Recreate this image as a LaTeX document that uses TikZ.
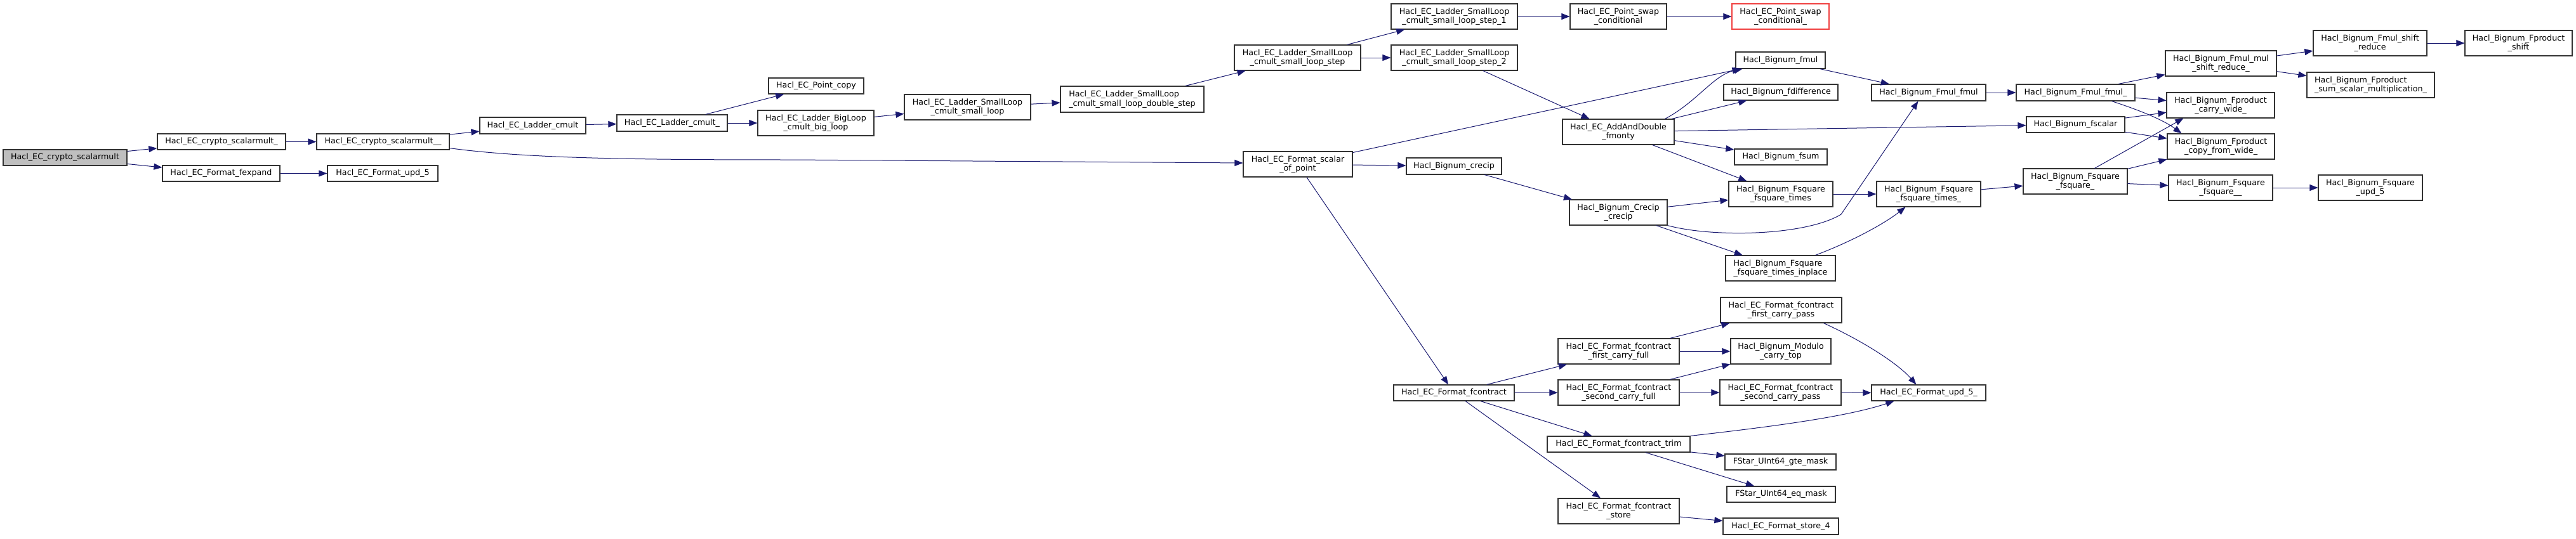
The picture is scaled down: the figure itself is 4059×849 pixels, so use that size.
\documentclass[tikz,border=0pt]{standalone}
\usepackage{fontspec}
\setmainfont{DejaVu Sans}
\usetikzlibrary{arrows.meta}
\definecolor{edgecol}{HTML}{191970}
\definecolor{redb}{HTML}{F04040}
\definecolor{rootfill}{HTML}{BFBFBF}
\newcommand{\fnt}{\fontsize{12.7}{14.4}\selectfont}
\tikzset{
  nd/.style={draw=black!80, line width=1.2pt, fill=white, inner sep=0pt, align=center, font=\fnt},
  conn/.style={draw=edgecol, line width=1pt, -{Triangle[length=13pt,width=10pt]}}
}
\newcommand{\mkbox}[7][]{\node[nd,#1,minimum width={(#5-#3)*1pt},minimum height={(#6-#4)*1pt}] (#2) at ({(#3+#5)/2},{(#4+#6)/2}) {#7};}
\begin{document}
\begin{tikzpicture}[x=1pt,y=-1pt]
\fill[white] (0,0) rectangle (4059,849);
\useasboundingbox (0,0) rectangle (4059,849);
% nodes
\mkbox[fill=rootfill]{root}{5}{236}{200}{261}{Hacl\_EC\_crypto\_scalarmult}
\mkbox{cs1}{248}{211}{450}{236}{Hacl\_EC\_crypto\_scalarmult\_}
\mkbox{fexp}{256}{261}{441}{286}{Hacl\_EC\_Format\_fexpand}
\mkbox{cs2}{499}{211}{708}{236}{Hacl\_EC\_crypto\_scalarmult\_\_}
\mkbox{upd5}{516}{261}{690}{286}{Hacl\_EC\_Format\_upd\_5}
\mkbox{lc}{756}{185}{923}{211}{Hacl\_EC\_Ladder\_cmult}
\mkbox{lcu}{972}{181}{1146}{207}{Hacl\_EC\_Ladder\_cmult\_}
\mkbox{pcopy}{1211}{123}{1361}{148}{Hacl\_EC\_Point\_copy}
\mkbox{big}{1194}{174}{1377}{214}{Hacl\_EC\_Ladder\_BigLoop\\\_cmult\_big\_loop}
\mkbox{sl}{1425}{149}{1624}{189}{Hacl\_EC\_Ladder\_SmallLoop\\\_cmult\_small\_loop}
\mkbox[align=left]{dstep}{1671}{136}{1897}{177}{Hacl\_EC\_Ladder\_SmallLoop\\\_cmult\_small\_loop\_double\_step}
\mkbox{sstep}{1945}{71}{2144}{111}{Hacl\_EC\_Ladder\_SmallLoop\\\_cmult\_small\_loop\_step}
\mkbox{sa}{2192}{6}{2391}{46}{Hacl\_EC\_Ladder\_SmallLoop\\\_cmult\_small\_loop\_step\_1}
\mkbox{sb}{2192}{71}{2391}{111}{Hacl\_EC\_Ladder\_SmallLoop\\\_cmult\_small\_loop\_step\_2}
\mkbox{swap}{2474}{6}{2626}{46}{Hacl\_EC\_Point\_swap\\\_conditional}
\mkbox[draw=redb]{swapr}{2729}{6}{2882}{46}{Hacl\_EC\_Point\_swap\\\_conditional\_}
\mkbox{sop}{1959}{239}{2131}{279}{Hacl\_EC\_Format\_scalar\\\_of\_point}
\mkbox{fmonty}{2462}{188}{2638}{228}{Hacl\_EC\_AddAndDouble\\\_fmonty}
\mkbox{fmul}{2735}{82}{2876}{108}{Hacl\_Bignum\_fmul}
\mkbox{fdiff}{2716}{133}{2896}{158}{Hacl\_Bignum\_fdifference}
\mkbox{fsum}{2733}{235}{2879}{260}{Hacl\_Bignum\_fsum}
\mkbox{fst}{2724}{286}{2888}{326}{Hacl\_Bignum\_Fsquare\\\_fsquare\_times}
\mkbox{crecip}{2216}{249}{2366}{275}{Hacl\_Bignum\_crecip}
\mkbox{ccrecip}{2473}{315}{2627}{355}{Hacl\_Bignum\_Crecip\\\_crecip}
\mkbox[align=left]{fsti}{2719}{403}{2892}{443}{Hacl\_Bignum\_Fsquare\\\_fsquare\_times\_inplace}
\mkbox{fmulfmul}{2949}{133}{3129}{159}{Hacl\_Bignum\_Fmul\_fmul}
\mkbox{fmulfmulu}{3177}{133}{3364}{159}{Hacl\_Bignum\_Fmul\_fmul\_}
\mkbox{fscalar}{3193}{184}{3348}{209}{Hacl\_Bignum\_fscalar}
\mkbox{fstu}{2957}{286}{3121}{326}{Hacl\_Bignum\_Fsquare\\\_fsquare\_times\_}
\mkbox{fsqu}{3188}{266}{3352}{306}{Hacl\_Bignum\_Fsquare\\\_fsquare\_}
\mkbox{msr}{3412}{80}{3587}{120}{Hacl\_Bignum\_Fmul\_mul\\\_shift\_reduce\_}
\mkbox{cw}{3414}{146}{3584}{186}{Hacl\_Bignum\_Fproduct\\\_carry\_wide\_}
\mkbox{cfw}{3415}{211}{3584}{251}{Hacl\_Bignum\_Fproduct\\\_copy\_from\_wide\_}
\mkbox{fsqq}{3417}{276}{3581}{316}{Hacl\_Bignum\_Fsquare\\\_fsquare\_\_}
\mkbox{fsr}{3645}{48}{3824}{88}{Hacl\_Bignum\_Fmul\_shift\\\_reduce}
\mkbox{fps}{3884}{48}{4053}{88}{Hacl\_Bignum\_Fproduct\\\_shift}
\mkbox[align=left]{sss}{3635}{114}{3836}{154}{Hacl\_Bignum\_Fproduct\\\_sum\_scalar\_multiplication\_}
\mkbox{fupd}{3653}{276}{3817}{316}{Hacl\_Bignum\_Fsquare\\\_upd\_5}
\mkbox{fc}{2196}{607}{2386}{632}{Hacl\_EC\_Format\_fcontract}
\mkbox{fcf}{2455}{534}{2646}{574}{Hacl\_EC\_Format\_fcontract\\\_first\_carry\_full}
\mkbox{fcs}{2455}{599}{2646}{639}{Hacl\_EC\_Format\_fcontract\\\_second\_carry\_full}
\mkbox{fct}{2438}{688}{2663}{713}{Hacl\_EC\_Format\_fcontract\_trim}
\mkbox{fcst}{2455}{786}{2646}{826}{Hacl\_EC\_Format\_fcontract\\\_store}
\mkbox{fcp}{2711}{469}{2902}{509}{Hacl\_EC\_Format\_fcontract\\\_first\_carry\_pass}
\mkbox{mct}{2727}{534}{2885}{574}{Hacl\_Bignum\_Modulo\\\_carry\_top}
\mkbox{scp}{2710}{599}{2901}{639}{Hacl\_EC\_Format\_fcontract\\\_second\_carry\_pass}
\mkbox{upd5b}{2949}{607}{3129}{632}{Hacl\_EC\_Format\_upd\_5\_}
\mkbox{gte}{2718}{716}{2893}{741}{FStar\_UInt64\_gte\_mask}
\mkbox{eq}{2721}{767}{2892}{792}{FStar\_UInt64\_eq\_mask}
\mkbox{st4}{2715}{817}{2897}{843}{Hacl\_EC\_Format\_store\_4}
% edges
\draw[conn] (root) -- (cs1);
\draw[conn] (root) -- (fexp);
\draw[conn] (cs1) -- (cs2);
\draw[conn] (fexp) -- (upd5);
\draw[conn] (cs2) -- (lc);
\draw[conn] ([yshift=3pt]cs2.south east) .. controls (830,250) and (1000,252) .. (1250,252) -- ([yshift=2pt]sop.west);
\draw[conn] (lc) -- (lcu);
\draw[conn] (lcu) -- (pcopy);
\draw[conn] (lcu) -- (big);
\draw[conn] (big) -- (sl);
\draw[conn] (sl) -- (dstep);
\draw[conn] (dstep) -- (sstep);
\draw[conn] (sstep) -- (sa);
\draw[conn] (sstep) -- (sb);
\draw[conn] (sa) -- (swap);
\draw[conn] (swap) -- (swapr);
\draw[conn] (sb) -- (fmonty);
\draw[conn] (sop) -- (fmul);
\draw[conn] (sop) -- (crecip);
\draw[conn] (sop) -- (fc);
\draw[conn] ([xshift=-15pt]fmonty.north east) .. controls (2675,160) and (2700,118) .. ([xshift=11pt]fmul.south west);
\draw[conn] (fmonty) -- (fdiff);
\draw[conn] (fmonty) -- (fscalar);
\draw[conn] (fmonty) -- (fsum);
\draw[conn] (fmonty) -- (fst);
\draw[conn] (crecip) -- (ccrecip);
\draw[conn] (ccrecip) -- (fst);
\draw[conn] (ccrecip.south east) .. controls (2700,375) and (2845,372) .. (2901,338) -- ([xshift=74pt]fmulfmul.south west);
\draw[conn] (ccrecip) -- (fsti);
\draw[conn] (fmul) -- (fmulfmul);
\draw[conn] (fmulfmul) -- (fmulfmulu);
\draw[conn] (fst) -- (fstu);
\draw[conn] ([xshift=-32pt]fsti.north east) .. controls (2920,380) and (2970,352) .. ([xshift=46pt]fstu.south west);
\draw[conn] (fstu) -- (fsqu);
\draw[conn] (fmulfmulu) -- (msr);
\draw[conn] (fmulfmulu) -- (cw);
\draw[conn] ([xshift=-37pt]fmulfmulu.south east) .. controls (3375,175) and (3410,190) .. ([xshift=23pt]cfw.north west);
\draw[conn] (fscalar) -- (cw);
\draw[conn] (fscalar) -- (cfw);
\draw[conn] ([xshift=113pt]fsqu.north west) -- ([xshift=27pt]cw.south west);
\draw[conn] (fsqu) -- (cfw);
\draw[conn] (fsqu) -- (fsqq);
\draw[conn] (msr) -- (fsr);
\draw[conn] (msr) -- (sss);
\draw[conn] (fsr) -- (fps);
\draw[conn] (fsqq) -- (fupd);
\draw[conn] (fc) -- (fcf);
\draw[conn] (fc) -- (fcs);
\draw[conn] (fc) -- (fct);
\draw[conn] (fc) -- (fcst);
\draw[conn] (fcf) -- (fcp);
\draw[conn] (fcf) -- (mct);
\draw[conn] (fcs) -- (mct);
\draw[conn] (fcs) -- (scp);
\draw[conn] ([xshift=-29pt]fcp.south east) .. controls (2940,540) and (2992,575) .. ([xshift=71pt]upd5b.north west);
\draw[conn] (scp) -- (upd5b);
\draw[conn] (fct.north east) .. controls (2800,672) and (2910,657) .. ([xshift=36pt]upd5b.south west);
\draw[conn] (fct) -- (gte);
\draw[conn] (fct) -- (eq);
\draw[conn] (fcst) -- (st4);
\end{tikzpicture}
\end{document}
